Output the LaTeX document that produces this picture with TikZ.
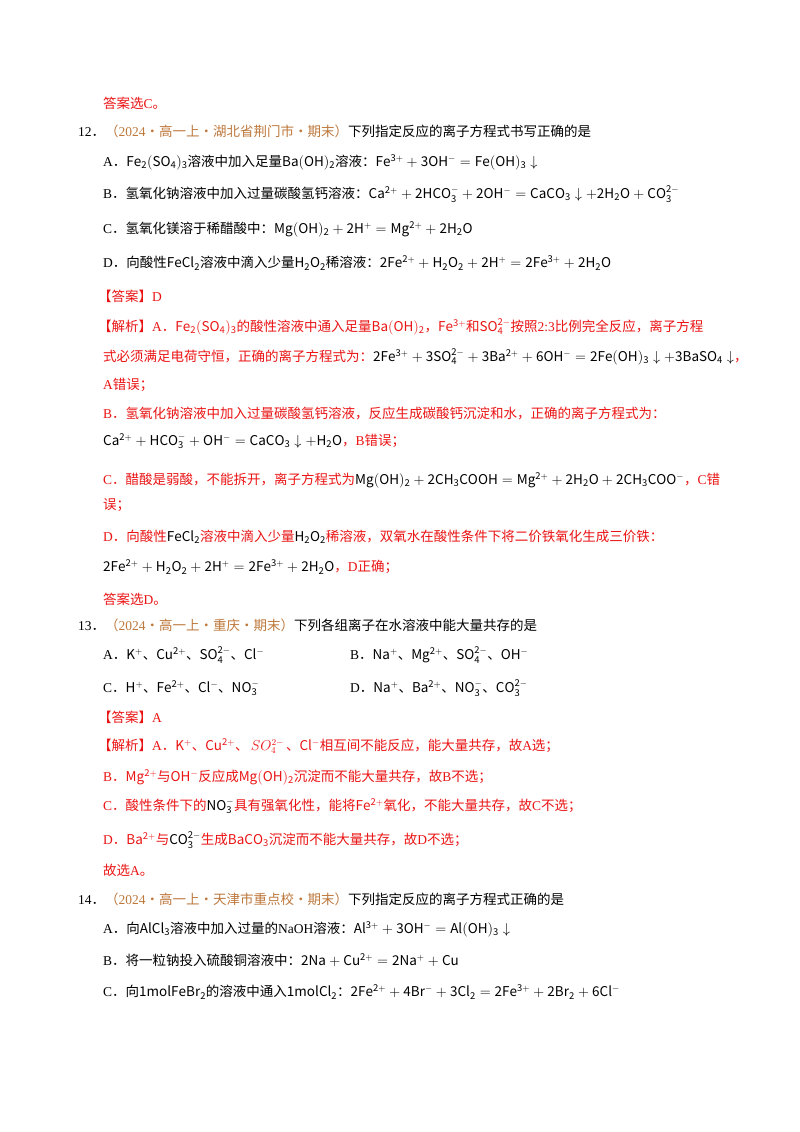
\documentclass[tikz,border=0pt]{standalone}
\usepackage{fontspec}
\setmainfont{Noto Sans CJK SC}
\newfontfamily\lat{Liberation Serif}
\definecolor{rd}{RGB}{235,20,20}
\definecolor{br}{RGB}{190,120,60}
\newcommand{\m}[1]{$\mathrm{#1}$}
\begin{document}
\begin{tikzpicture}[x=1pt,y=-1pt,font=\fontsize{13.5}{16}\selectfont,
 t/.style={anchor=west,inner sep=0pt},
 r/.style={t,text=rd}]
\useasboundingbox (0,0) rectangle (800,1132);
\fill[white] (0,0) rectangle (800,1132);
\node[r] (l1) at (103,103) {答案选{\lat C}。};
\node[t] (l2) at (78,131) {{\lat 12}．\textcolor{br}{（{\lat 2024}·高一上·湖北省荆门市·期末）}下列指定反应的离子方程式书写正确的是};
\node[t] (l3) at (103,162) {{\lat A}．\m{Fe_2(SO_4)_3}溶液中加入足量\m{Ba(OH)_2}溶液：\m{Fe^{3+}+3OH^-=Fe(OH)_3\downarrow}};
\node[t] (l4) at (103,194) {{\lat B}．氢氧化钠溶液中加入过量碳酸氢钙溶液：\m{Ca^{2+}+2HCO_3^-+2OH^-=CaCO_3\downarrow+2H_2O+CO_3^{2-}}};
\node[t] (l5) at (103,229) {{\lat C}．氢氧化镁溶于稀醋酸中：\m{Mg(OH)_2+2H^+=Mg^{2+}+2H_2O}};
\node[t] (l6) at (103,263) {{\lat D}．向酸性\m{FeCl_2}溶液中滴入少量\m{H_2O_2}稀溶液：\m{2Fe^{2+}+H_2O_2+2H^+=2Fe^{3+}+2H_2O}};
\node[r] (l7) at (98,296) {【答案】{\lat D}};
\node[r] (l8) at (98,327) {【解析】{\lat A}．\m{Fe_2(SO_4)_3}的酸性溶液中通入足量\m{Ba(OH)_2}，\m{Fe^{3+}}和\m{SO_4^{2-}}按照{\lat 2:3}比例完全反应，离子方程};
\node[r] (l9) at (103,357) {式必须满足电荷守恒，正确的离子方程式为：\textcolor{black}{\m{2Fe^{3+}+3SO_4^{2-}+3Ba^{2+}+6OH^-=2Fe(OH)_3\downarrow+3BaSO_4\downarrow}}，};
\node[r] (l10) at (103,385) {{\lat A}错误；};
\node[r] (l11) at (103,413) {{\lat B}．氢氧化钠溶液中加入过量碳酸氢钙溶液，反应生成碳酸钙沉淀和水，正确的离子方程式为：};
\node[r] (l12) at (103,441) {\textcolor{black}{\m{Ca^{2+}+HCO_3^-+OH^-=CaCO_3\downarrow+H_2O}}，{\lat B}错误；};
\node[r] (l13) at (103,480) {{\lat C}．醋酸是弱酸，不能拆开，离子方程式为\textcolor{black}{\m{Mg(OH)_2+2CH_3COOH=Mg^{2+}+2H_2O+2CH_3COO^-}}，{\lat C}错};
\node[r] (l14) at (103,505) {误；};
\node[r] (l15) at (103,537) {{\lat D}．向酸性\textcolor{black}{\m{FeCl_2}}溶液中滴入少量\textcolor{black}{\m{H_2O_2}}稀溶液，双氧水在酸性条件下将二价铁氧化生成三价铁：};
\node[r] (l16) at (103,567) {\textcolor{black}{\m{2Fe^{2+}+H_2O_2+2H^+=2Fe^{3+}+2H_2O}}，{\lat D}正确；};
\node[r] (l17) at (103,599) {答案选{\lat D}。};
\node[t] (l18) at (78,625) {{\lat 13}．\textcolor{br}{（{\lat 2024}·高一上·重庆·期末）}下列各组离子在水溶液中能大量共存的是};
\node[t] (l19a) at (103,655) {{\lat A}．\m{K^+}、\m{Cu^{2+}}、\m{SO_4^{2-}}、\m{Cl^-}};
\node[t] (l19b) at (350,655) {{\lat B}．\m{Na^+}、\m{Mg^{2+}}、\m{SO_4^{2-}}、\m{OH^-}};
\node[t] (l20a) at (103,688) {{\lat C}．\m{H^+}、\m{Fe^{2+}}、\m{Cl^-}、\m{NO_3^-}};
\node[t] (l20b) at (350,688) {{\lat D}．\m{Na^+}、\m{Ba^{2+}}、\m{NO_3^-}、\m{CO_3^{2-}}};
\node[r] (l21) at (98,717) {【答案】{\lat A}};
\node[r] (l22) at (98,746) {【解析】{\lat A}．\m{K^+}、\m{Cu^{2+}}、\,$SO_4^{2-}$\,、\m{Cl^-}相互间不能反应，能大量共存，故{\lat A}选；};
\node[r] (l23) at (103,777) {{\lat B}．\m{Mg^{2+}}与\m{OH^-}反应成\m{Mg(OH)_2}沉淀而不能大量共存，故{\lat B}不选；};
\node[r] (l24) at (103,806) {{\lat C}．酸性条件下的\textcolor{black}{\m{NO_3^-}}具有强氧化性，能将\m{Fe^{2+}}氧化，不能大量共存，故{\lat C}不选；};
\node[r] (l25) at (103,840) {{\lat D}．\m{Ba^{2+}}与\textcolor{black}{\m{CO_3^{2-}}}生成\m{BaCO_3}沉淀而不能大量共存，故{\lat D}不选；};
\node[r] (l26) at (103,870) {故选{\lat A}。};
\node[t] (l27) at (78,899) {{\lat 14}．\textcolor{br}{（{\lat 2024}·高一上·天津市重点校·期末）}下列指定反应的离子方程式正确的是};
\node[t] (l28) at (103,929) {{\lat A}．向\m{AlCl_3}溶液中加入过量的{\lat NaOH}溶液：\m{Al^{3+}+3OH^-=Al(OH)_3\downarrow}};
\node[t] (l29) at (103,960) {{\lat B}．将一粒钠投入硫酸铜溶液中：\m{2Na+Cu^{2+}=2Na^++Cu}};
\node[t] (l30) at (103,992) {{\lat C}．向\m{1molFeBr_2}的溶液中通入\m{1molCl_2}：\m{2Fe^{2+}+4Br^-+3Cl_2=2Fe^{3+}+2Br_2+6Cl^-}};
\end{tikzpicture}
\end{document}
